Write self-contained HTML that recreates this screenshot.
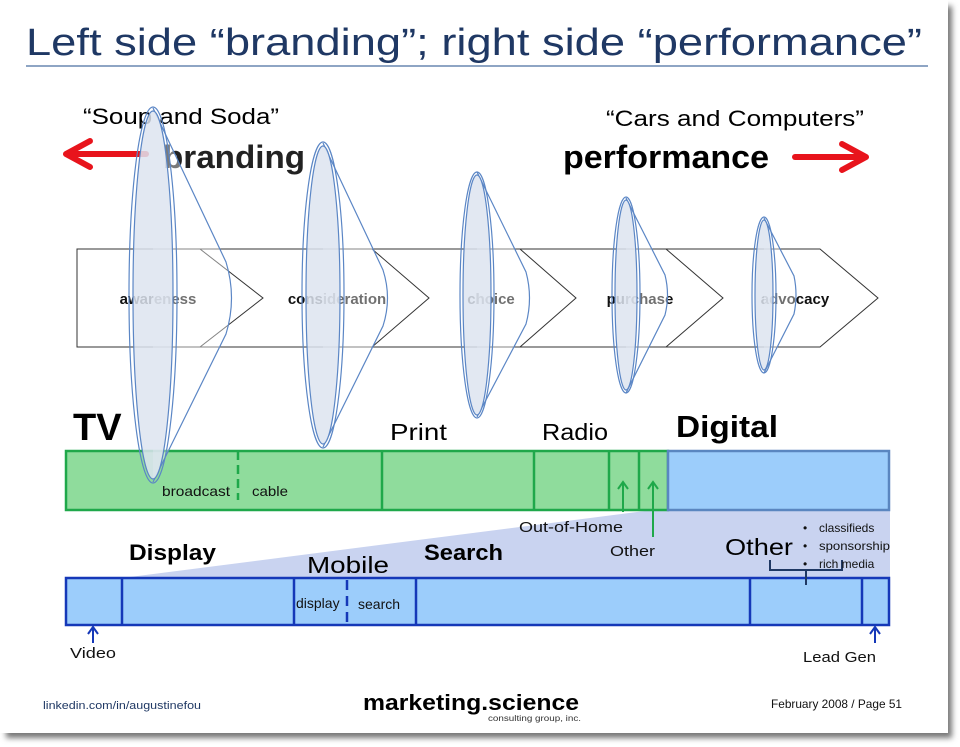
<!DOCTYPE html>
<html><head><meta charset="utf-8"><style>
html,body{margin:0;padding:0;background:#fff;width:960px;height:747px;overflow:hidden}
svg{display:block;font-family:"Liberation Sans",sans-serif}
</style></head><body>
<svg width="960" height="747" viewBox="0 0 960 747" xmlns="http://www.w3.org/2000/svg">
<defs>
<filter id="sh" x="-5%" y="-5%" width="110%" height="110%"><feGaussianBlur stdDeviation="3"/></filter>
</defs>
<rect x="6" y="6" width="946" height="732" fill="#777" filter="url(#sh)"/>
<rect x="0" y="0" width="948" height="733" fill="#fff"/>

<text x="26" y="55" font-size="38" fill="#1f3864" textLength="896" lengthAdjust="spacingAndGlyphs">Left side “branding”; right side “performance”</text>
<line x1="26" y1="66" x2="928" y2="66" stroke="#4a6fa0" stroke-width="1.2"/>

<text x="83" y="124" font-size="22" fill="#000" textLength="196" lengthAdjust="spacingAndGlyphs">“Soup and Soda”</text>
<text x="606" y="126" font-size="22" fill="#000" textLength="258" lengthAdjust="spacingAndGlyphs">“Cars and Computers”</text>
<text x="163" y="168" font-size="32" font-weight="bold" fill="#222" textLength="142" lengthAdjust="spacingAndGlyphs">branding</text>
<text x="563" y="168" font-size="32" font-weight="bold" fill="#000" textLength="206" lengthAdjust="spacingAndGlyphs">performance</text>
<g stroke="#e8141c" stroke-width="6" fill="none" stroke-linecap="round" stroke-linejoin="round">
<line x1="68" y1="154" x2="146" y2="154"/><polyline points="90,141 66,154 90,167"/>
<line x1="795" y1="157" x2="864" y2="157"/><polyline points="842,144 866,157 842,170"/>
</g>

<g stroke="#333" stroke-width="1" fill="none">
<polygon points="77,249 820,249 878,298 820,347 77,347" fill="#fff"/>
<polyline points="200,249 263,298 200,347"/>
<polyline points="372,249 429,298 372,347"/>
<polyline points="520,249 576,298 520,347"/>
<polyline points="666,249 723,298 666,347"/>
</g>
<g font-size="15" font-weight="bold" fill="#111" text-anchor="middle">
<text x="158" y="304">awareness</text>
<text x="337" y="304">consideration</text>
<text x="491" y="304">choice</text>
<text x="640" y="304">purchase</text>
<text x="795" y="304">advocacy</text>
</g>

<polygon points="122,578 668,508 890,508 890,578" fill="#c9d3f0"/>

<rect x="66" y="451" width="602" height="59" fill="#8fdc9c" stroke="#1fa84a" stroke-width="2.5"/>
<g stroke="#1fa84a" stroke-width="2.5">
<line x1="382" y1="451" x2="382" y2="510"/><line x1="534" y1="451" x2="534" y2="510"/>
<line x1="609" y1="451" x2="609" y2="510"/><line x1="639" y1="451" x2="639" y2="510"/>
<line x1="238" y1="451" x2="238" y2="500" stroke-dasharray="9,5"/>
</g>
<rect x="668" y="451" width="221" height="59" fill="#9ccdfb" stroke="#5a86c0" stroke-width="2.5"/>
<g stroke="#1fa84a" stroke-width="2" fill="none">
<line x1="623" y1="512" x2="623" y2="483"/><polyline points="618,489 623,482 628,489"/>
<line x1="653" y1="537" x2="653" y2="483"/><polyline points="648,489 653,482 658,489"/>
</g>

<rect x="66" y="578" width="823" height="47" fill="#9ccdfb" stroke="#1538b8" stroke-width="2.5"/>
<g stroke="#1538b8" stroke-width="2.5">
<line x1="122" y1="578" x2="122" y2="625"/><line x1="294" y1="578" x2="294" y2="625"/>
<line x1="416" y1="578" x2="416" y2="625"/><line x1="750" y1="578" x2="750" y2="625"/>
<line x1="862" y1="578" x2="862" y2="625"/>
<line x1="347" y1="580" x2="347" y2="625" stroke-dasharray="10,6"/>
</g>
<g stroke="#1538b8" stroke-width="2" fill="none">
<line x1="93" y1="643" x2="93" y2="628"/><polyline points="88,634 93,627 98,634"/>
<line x1="875" y1="643" x2="875" y2="628"/><polyline points="870,634 875,627 880,634"/>
</g>
<path d="M770,560 V570 H842 V560 M806,570 V585" stroke="#1f3864" stroke-width="2" fill="none"/>

<g stroke="#5b86c5" stroke-width="1.2">
<path d="M153,108 L226,262 Q237,298 226,334 L153,482" fill="#fff" fill-opacity="0.4"/>
<ellipse cx="153" cy="295" rx="24" ry="188" fill="none"/>
<ellipse cx="153" cy="295" rx="20" ry="184" fill="#dde4f0" fill-opacity="0.85"/>
<path d="M323,143 L383,270 Q392,298 383,326 L323,447" fill="#fff" fill-opacity="0.4"/>
<ellipse cx="323" cy="295" rx="21" ry="153" fill="none"/>
<ellipse cx="323" cy="295" rx="17" ry="149" fill="#dde4f0" fill-opacity="0.85"/>
<path d="M477,172 L526,272 Q533,298 526,324 L477,417" fill="#fff" fill-opacity="0.4"/>
<ellipse cx="477" cy="295" rx="17" ry="123" fill="none"/>
<ellipse cx="477" cy="295" rx="14" ry="120" fill="#dde4f0" fill-opacity="0.85"/>
<path d="M626,198 L665,275 Q670,295 665,315 L626,393" fill="#fff" fill-opacity="0.4"/>
<ellipse cx="626" cy="295" rx="14" ry="98" fill="none"/>
<ellipse cx="626" cy="295" rx="11" ry="95" fill="#dde4f0" fill-opacity="0.85"/>
<path d="M764,218 L794,276 Q798,295 794,314 L764,373" fill="#fff" fill-opacity="0.4"/>
<ellipse cx="764" cy="295" rx="12" ry="78" fill="none"/>
<ellipse cx="764" cy="295" rx="9" ry="75" fill="#dde4f0" fill-opacity="0.85"/>
</g>

<text x="73" y="440" font-size="38" font-weight="bold" fill="#000">TV</text>
<text x="390" y="440" font-size="23" fill="#000" textLength="57" lengthAdjust="spacingAndGlyphs">Print</text>
<text x="542" y="440" font-size="23" fill="#000" textLength="66" lengthAdjust="spacingAndGlyphs">Radio</text>
<text x="676" y="437" font-size="31" font-weight="bold" fill="#000" textLength="102" lengthAdjust="spacingAndGlyphs">Digital</text>
<text x="162" y="496" font-size="14" fill="#111" textLength="68" lengthAdjust="spacingAndGlyphs">broadcast</text>
<text x="252" y="496" font-size="14" fill="#111" textLength="36" lengthAdjust="spacingAndGlyphs">cable</text>
<text x="519" y="532" font-size="15" fill="#111" textLength="104" lengthAdjust="spacingAndGlyphs">Out-of-Home</text>
<text x="610" y="556" font-size="15" fill="#111" textLength="45" lengthAdjust="spacingAndGlyphs">Other</text>
<text x="129" y="560" font-size="22" font-weight="bold" fill="#000" textLength="87" lengthAdjust="spacingAndGlyphs">Display</text>
<text x="307" y="573" font-size="23" fill="#000" textLength="82" lengthAdjust="spacingAndGlyphs">Mobile</text>
<text x="424" y="560" font-size="22" font-weight="bold" fill="#000" textLength="79" lengthAdjust="spacingAndGlyphs">Search</text>
<text x="725" y="555" font-size="23" fill="#000" textLength="68" lengthAdjust="spacingAndGlyphs">Other</text>
<g font-size="12" fill="#111">
<text x="803" y="532">•</text><text x="819" y="532">classifieds</text>
<text x="803" y="550">•</text><text x="819" y="550" textLength="71" lengthAdjust="spacingAndGlyphs">sponsorship</text>
<text x="803" y="568">•</text><text x="819" y="568">rich media</text>
</g>
<text x="296" y="608" font-size="14" fill="#111">display</text>
<text x="358" y="609" font-size="14" fill="#111">search</text>
<text x="70" y="658" font-size="15" fill="#111" textLength="46" lengthAdjust="spacingAndGlyphs">Video</text>
<text x="803" y="662" font-size="15" fill="#111" textLength="73" lengthAdjust="spacingAndGlyphs">Lead Gen</text>

<text x="43" y="709" font-size="11" fill="#1f3864" textLength="158" lengthAdjust="spacingAndGlyphs">linkedin.com/in/augustinefou</text>
<text x="363" y="710" font-size="22" font-weight="bold" fill="#000" textLength="216" lengthAdjust="spacingAndGlyphs">marketing.science</text>
<text x="488" y="721" font-size="8" fill="#333" textLength="93" lengthAdjust="spacingAndGlyphs">consulting group, inc.</text>
<text x="771" y="708" font-size="12" fill="#111" textLength="131" lengthAdjust="spacingAndGlyphs">February 2008 / Page 51</text>
</svg>
</body></html>
